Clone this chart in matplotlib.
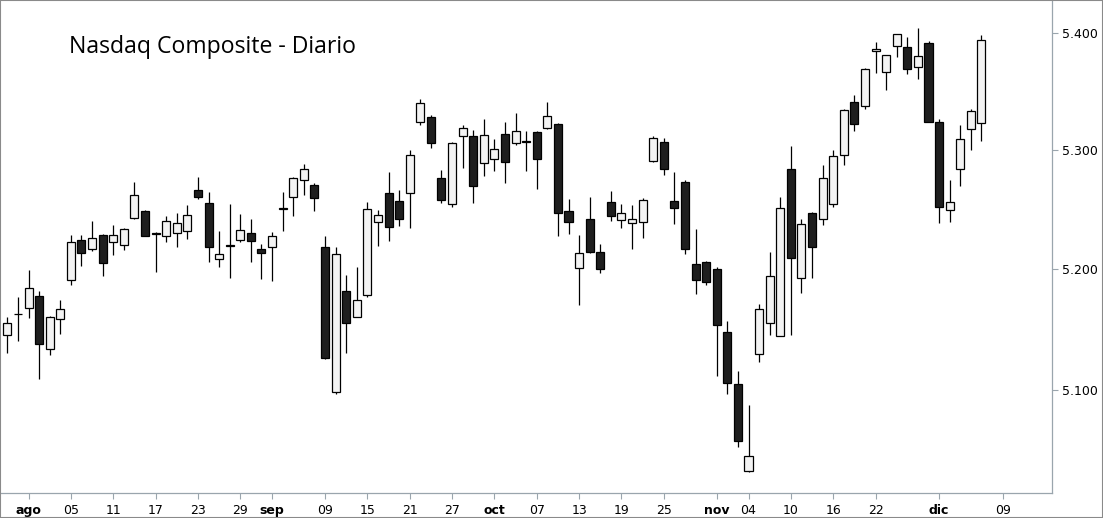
import numpy as np
import pandas as pd
import matplotlib
matplotlib.use("Agg")
import matplotlib.pyplot as plt
from matplotlib.patches import Rectangle
from matplotlib.ticker import FixedLocator, NullLocator

# daily OHLC, 28 jul - 7 dic
opens = [5144.9, 5162.0, 5167.5, 5177.7, 5133.6, 5158.4, 5190.7, 5224.2, 5216.6, 5228.3,
         5222.4, 5219.9, 5242.6, 5248.5, 5229.8, 5226.9, 5230.0, 5231.7, 5266.1, 5254.6,
         5208.2, 5219.3, 5224.2, 5230.0, 5216.6, 5218.2, 5250.0, 5260.3, 5274.6, 5270.4,
         5218.3, 5098.1, 5181.6, 5160.1, 5178.3, 5239.3, 5263.6, 5256.9, 5263.6, 5323.7,
         5328.0, 5276.2, 5254.5, 5312.0, 5311.7, 5288.8, 5292.2, 5313.7, 5305.7, 5306.9,
         5315.2, 5318.5, 5322.0, 5248.5, 5200.6, 5241.8, 5214.1, 5256.1, 5241.0, 5238.4,
         5239.3, 5290.2, 5306.6, 5257.0, 5272.9, 5204.0, 5205.6, 5199.8, 5147.7, 5104.7,
         5033.9, 5129.5, 5155.1, 5144.4, 5283.8, 5192.3, 5246.9, 5241.5, 5254.5, 5295.5,
         5340.8, 5337.3, 5384.4, 5366.4, 5388.6, 5387.8, 5370.7, 5391.2, 5323.7, 5249.3,
         5283.8, 5317.6, 5322.8]
highs = [5160.0, 5176.3, 5199.2, 5181.8, 5160.8, 5174.4, 5227.7, 5228.5, 5239.5, 5229.0,
         5236.2, 5233.8, 5272.3, 5249.0, 5230.3, 5243.9, 5246.2, 5252.9, 5276.5, 5263.9,
         5231.1, 5253.8, 5245.4, 5241.8, 5220.2, 5230.3, 5263.9, 5276.8, 5288.2, 5271.5,
         5226.9, 5218.3, 5195.0, 5201.7, 5255.5, 5249.3, 5281.5, 5265.6, 5300.0, 5343.6,
         5329.9, 5282.4, 5306.6, 5321.1, 5316.8, 5326.2, 5309.4, 5323.9, 5331.6, 5316.2,
         5316.0, 5341.0, 5322.5, 5258.0, 5228.5, 5259.7, 5220.2, 5264.7, 5254.4, 5252.9,
         5259.4, 5312.0, 5310.0, 5281.3, 5274.6, 5232.8, 5206.7, 5201.7, 5157.0, 5115.7,
         5087.8, 5170.3, 5214.3, 5259.7, 5303.4, 5241.8, 5247.7, 5287.4, 5300.0, 5334.3,
         5347.0, 5369.8, 5392.3, 5381.3, 5399.2, 5396.6, 5404.3, 5393.2, 5326.5, 5274.6,
         5321.1, 5334.8, 5398.3]
lows = [5130.5, 5139.9, 5158.9, 5109.3, 5128.3, 5146.0, 5186.2, 5202.0, 5214.5, 5193.6,
        5211.2, 5215.4, 5241.8, 5227.0, 5197.0, 5222.1, 5217.9, 5224.6, 5258.3, 5205.3,
        5201.1, 5192.0, 5222.5, 5205.3, 5191.2, 5189.5, 5231.4, 5244.1, 5261.6, 5248.2,
        5125.6, 5097.0, 5130.5, 5159.8, 5176.6, 5218.8, 5222.9, 5235.6, 5233.9, 5320.8,
        5301.1, 5255.3, 5251.6, 5284.3, 5255.0, 5277.6, 5281.8, 5271.7, 5304.0, 5281.8,
        5266.7, 5317.3, 5227.1, 5228.8, 5169.7, 5213.0, 5196.1, 5239.8, 5233.8, 5216.2,
        5225.5, 5289.4, 5278.4, 5237.4, 5212.4, 5178.8, 5186.2, 5111.8, 5097.0, 5053.4,
        5033.5, 5122.6, 5144.9, 5144.0, 5144.9, 5179.6, 5192.0, 5236.4, 5251.6, 5287.4,
        5315.6, 5334.4, 5365.2, 5350.7, 5378.9, 5364.4, 5360.1, 5323.5, 5238.4, 5239.3,
        5269.2, 5299.4, 5307.1]
closes = [5154.8, 5162.6, 5184.1, 5137.8, 5160.3, 5166.9, 5221.9, 5213.2, 5225.9, 5204.8,
          5228.4, 5233.4, 5261.9, 5227.5, 5228.8, 5240.2, 5238.5, 5245.2, 5260.3, 5218.2,
          5212.4, 5219.1, 5232.6, 5223.2, 5213.2, 5227.5, 5250.4, 5276.3, 5283.8, 5259.5,
          5126.2, 5212.4, 5155.1, 5174.1, 5250.2, 5245.2, 5235.0, 5241.5, 5295.5, 5339.9,
          5305.7, 5257.8, 5305.7, 5318.5, 5269.2, 5312.5, 5300.6, 5289.7, 5316.0, 5306.6,
          5291.8, 5328.8, 5246.9, 5239.3, 5213.2, 5214.1, 5199.8, 5244.4, 5246.9, 5241.8,
          5257.8, 5310.0, 5283.4, 5251.1, 5216.6, 5190.7, 5189.0, 5153.5, 5105.5, 5058.3,
          5046.1, 5166.7, 5194.0, 5251.1, 5208.8, 5237.6, 5218.0, 5276.2, 5294.7, 5333.9,
          5322.0, 5369.0, 5386.1, 5380.9, 5398.9, 5369.0, 5380.1, 5323.7, 5251.9, 5256.1,
          5309.1, 5333.1, 5393.8]

holidays = ["2016-09-05", "2016-11-24"]
tick_dates = ["2016-08-01", "2016-08-05", "2016-08-11", "2016-08-17", "2016-08-23",
              "2016-08-29", "2016-09-01", "2016-09-09", "2016-09-15", "2016-09-21",
              "2016-09-27", "2016-10-03", "2016-10-07", "2016-10-13", "2016-10-19",
              "2016-10-25", "2016-11-01", "2016-11-04", "2016-11-10", "2016-11-16",
              "2016-11-22", "2016-12-01", "2016-12-09"]
tick_labels = ["ago", "05", "11", "17", "23", "29", "sep", "09", "15", "21", "27",
               "oct", "07", "13", "19", "25", "nov", "04", "10", "16", "22", "dic", "09"]
month_labels = ["ago", "sep", "oct", "nov", "dic"]
y_ticks = [5100, 5200, 5300, 5400]

days = pd.bdate_range("2016-07-28", "2016-12-09")
days = days[~days.isin(pd.to_datetime(holidays))]
pos = {d.strftime("%Y-%m-%d"): i for i, d in enumerate(days)}

o = np.array(opens)
h = np.array(highs)
l = np.array(lows)
c = np.array(closes)
x = np.arange(len(o))
up = c >= o

W, H = 1103, 518
fig = plt.figure(figsize=(W / 100, H / 100), dpi=100)
ax = fig.add_axes([1 / W, (H - 492.7) / H, 1051.4 / W, 491.7 / H])

grey = "#9aa5ad"
ax.vlines(x, l, h, color="black", lw=0.9, zorder=1)
bottoms = np.minimum(o, c)
heights = np.maximum(np.abs(c - o), 0.4)
ax.bar(x[up], heights[up], bottom=bottoms[up], width=0.76, color="#f3f3f3",
       edgecolor="black", lw=0.9, zorder=2)
ax.bar(x[~up], heights[~up], bottom=bottoms[~up], width=0.76, color="#1e1e1e",
       edgecolor="black", lw=0.9, zorder=2)

ax.set_yscale("log")
ax.set_ylim(5016.8, 5427.7)
ax.set_xlim(-0.6, 98.7)
ax.yaxis.set_major_locator(FixedLocator(y_ticks))
ax.yaxis.set_minor_locator(NullLocator())
ax.set_yticklabels([f"{v:,}".replace(",", ".") for v in y_ticks])
ax.yaxis.tick_right()

ax.set_xticks([pos[d] for d in tick_dates])
ax.set_xticklabels(tick_labels)
for t in ax.get_xticklabels():
    if t.get_text() in month_labels:
        t.set_fontweight("bold")

ax.tick_params(axis="both", which="both", direction="out", length=4, width=0.8,
               color=grey, labelsize=9, labelcolor="black")
ax.tick_params(axis="y", pad=3)
ax.tick_params(axis="x", pad=4)
for side in ["top", "left"]:
    ax.spines[side].set_visible(False)
for side in ["right", "bottom"]:
    ax.spines[side].set_color(grey)
    ax.spines[side].set_linewidth(0.9)

fig.text(69 / W, 1 - 53.3 / H, "Nasdaq Composite - Diario", fontsize=16.6,
         family="Open Sans", va="baseline", ha="left")
fig.patches.append(Rectangle((0, 0), 1, 1, transform=fig.transFigure, fill=False,
                             edgecolor="#8a8a8a", lw=1.5))

fig.savefig("out.png", dpi=100, facecolor="white")
